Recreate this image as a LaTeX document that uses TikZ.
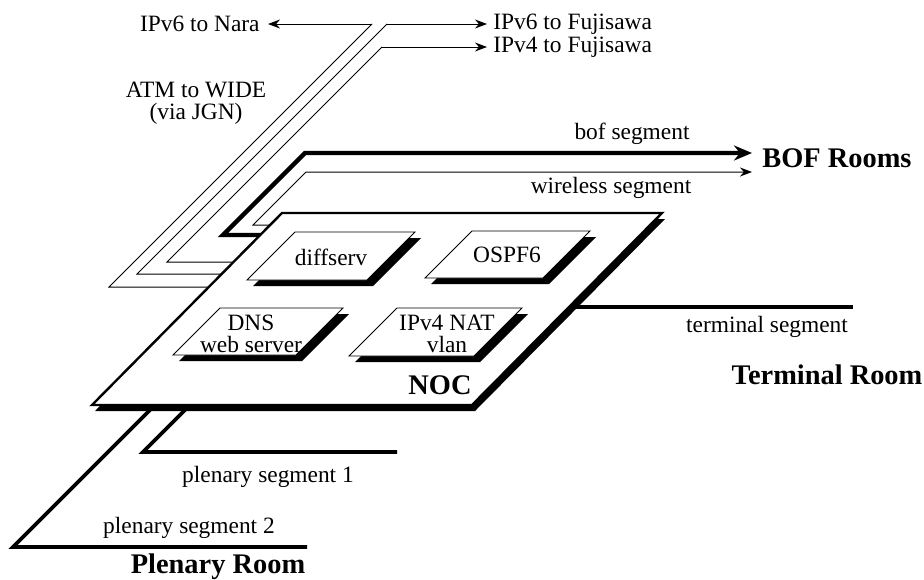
\documentclass[tikz,border=0pt]{standalone}
\usepackage{fontspec}
\setmainfont{Liberation Serif}
\usetikzlibrary{arrows.meta,positioning}

\begin{document}
\begin{tikzpicture}[x=0.5pt,y=-0.5pt,
 lbl/.style={font=\fontsize{11.7}{10.8}\selectfont,inner sep=0pt,align=center},
 room/.style={font=\fontsize{14.2}{16}\selectfont\bfseries,inner sep=0pt},
 wire/.style={line width=0.5pt},
 trunk/.style={line width=2.2pt},
 seg/.style={line width=1.9pt},
 shd/.style={fill=black},
 plate/.style={fill=white,draw=black,line width=1.2pt},
 card/.style={fill=white,draw=black,line width=0.45pt},
 smallhead/.style={-{Stealth[length=6pt,width=4.5pt]}},
 bighead/.style={-{Stealth[length=9pt,width=7.5pt]}}]
\useasboundingbox (0,0) rectangle (924,579);

% labels
\node[lbl,anchor=east,inner xsep=4pt] (nara) at (268,24) {IPv6 to Nara};
\node[lbl,anchor=west,inner xsep=3pt] (fuji6) at (487,24) {IPv6 to Fujisawa};
\node[lbl,anchor=west,inner xsep=3pt] (fuji4) at (487,47) {IPv4 to Fujisawa};
\node[lbl] (atm) at (196,103) {ATM to WIDE\\(via JGN)};
\node[lbl] (bofseg) at (632,134) {bof segment};
\node[lbl] (wlseg) at (611,188) {wireless segment};
\node[room,anchor=west,inner xsep=5pt] (bof) at (752,158) {BOF Rooms};
\node[lbl] (termseg) at (767,327) {terminal segment};
\node[room] (term) at (827,375) {Terminal Room};
\node[lbl] (ple1) at (268,477) {plenary segment 1};
\node[lbl] (ple2) at (189,528) {plenary segment 2};
\node[room] (ple) at (218,567) {Plenary Room};

% bends of the lines
\coordinate (u1) at (372,24);  \coordinate (u1b) at (109,287); \coordinate (u1c) at (230,287);
\coordinate (u2) at (387,24);  \coordinate (u2b) at (137,274); \coordinate (u2c) at (240,274);
\coordinate (u3) at (382,47);  \coordinate (u3b) at (167,262); \coordinate (u3c) at (250,262);
\coordinate (b1) at (305,153); \coordinate (b2) at (223,235);  \coordinate (b3) at (280,235);
\coordinate (w1) at (306,172); \coordinate (w2) at (253,225);  \coordinate (w3) at (285,225);
\coordinate (t1) at (560,307); \coordinate (t2) at (853,307);
\coordinate (p1a) at (200,395); \coordinate (p1b) at (143,452); \coordinate (p1c) at (397,452);
\coordinate (p2a) at (163,397); \coordinate (p2b) at (13,547);  \coordinate (p2c) at (307,547);

\draw[wire,smallhead] (u1) -- (nara.east);
\draw[wire,smallhead] (u2) -- (fuji6.west);
\draw[wire,smallhead] (u3) -- (fuji4.west);
\foreach \a/\b/\c in {u1/u1b/u1c,u2/u2b/u2c,u3/u3b/u3c} \draw[wire] (\a)--(\b)--(\c);
\draw[trunk,bighead] (b3) -- (b2) -- (b1) -- (b1 -| bof.west);
\draw[wire,smallhead] (w3) -- (w2) -- (w1) -- (w1 -| bof.west);
\draw[seg] (t1) -- (t2);
\draw[seg] (p1a) -- (p1b) -- (p1c);
\draw[seg] (p2a) -- (p2b) -- (p2c);

% NOC plate
\fill[shd,shift={(3,6)}] (282,213) -- (662,213) -- (472,405) -- (92,405) -- cycle;
\draw[plate] (282,213) -- (662,213) -- (472,405) -- (92,405) -- cycle;
\node[room] (noc) at (440,385) {NOC};

% servers on the plate
\foreach \x/\y/\w/\h in {295/232/120/48,472/231/118/47,220/308/123/47,397/308/125/48}{
 \fill[shd,shift={(6,6)}] (\x,\y) -- ++(\w,0) -- ++(-\h,\h) -- ++(-\w,0) -- cycle;
 \draw[card] (\x,\y) -- ++(\w,0) -- ++(-\h,\h) -- ++(-\w,0) -- cycle;
}
\node[lbl] (diff) at (331,257) {diffserv};
\node[lbl] (ospf) at (507,255) {OSPF6};
\node[lbl] (dns) at (251,334) {DNS\\web server};
\node[lbl] (nat) at (447,334) {IPv4 NAT\\vlan};
\end{tikzpicture}
\end{document}
